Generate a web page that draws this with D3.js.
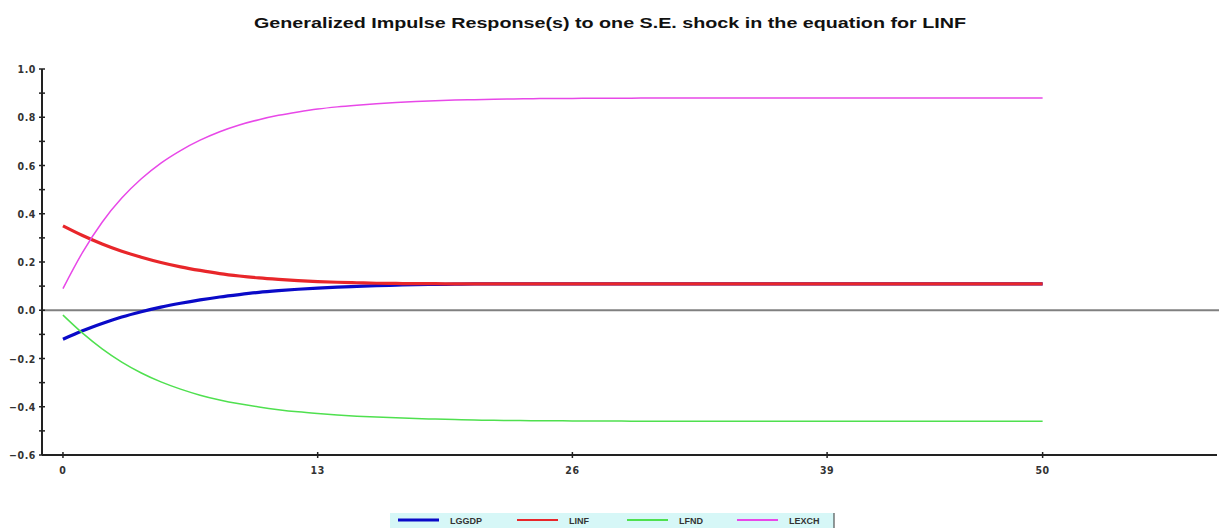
<!DOCTYPE html>
<html>
<head>
<meta charset="utf-8">
<script src="https://cdn.jsdelivr.net/npm/d3@7"></script>
<style>
  body { margin: 0; background: #fff; }
  svg { display: block; font-family: "Liberation Sans", Arial, sans-serif; }
</style>
</head>
<body>
<div id="chart"></div>
<script>
// horizons 0..50
const horizons = d3.range(0, 51);

const LGGDP = [-0.120, -0.085, -0.055, -0.028, -0.006, 0.013, 0.029, 0.043, 0.055, 0.065,
  0.074, 0.081, 0.087, 0.092, 0.096, 0.099, 0.102, 0.104, 0.106, 0.107,
  0.108, 0.109, 0.109, 0.109, 0.109, 0.109, 0.109, 0.109, 0.109, 0.109,
  0.109, 0.109, 0.109, 0.109, 0.109, 0.109, 0.109, 0.109, 0.109, 0.109,
  0.109, 0.109, 0.109, 0.109, 0.109, 0.109, 0.109, 0.109, 0.109, 0.109, 0.109];

const LINF = [0.350, 0.310, 0.275, 0.245, 0.220, 0.198, 0.180, 0.165, 0.152, 0.142,
  0.134, 0.128, 0.123, 0.119, 0.116, 0.114, 0.112, 0.111, 0.110, 0.110,
  0.109, 0.109, 0.109, 0.109, 0.109, 0.109, 0.109, 0.109, 0.109, 0.109,
  0.109, 0.109, 0.109, 0.109, 0.109, 0.109, 0.109, 0.109, 0.109, 0.109,
  0.109, 0.109, 0.109, 0.109, 0.109, 0.109, 0.109, 0.109, 0.109, 0.109, 0.109];

const LFND = [-0.020, -0.095, -0.160, -0.215, -0.260, -0.297, -0.327, -0.352, -0.372, -0.388,
  -0.401, -0.412, -0.421, -0.428, -0.434, -0.439, -0.443, -0.446, -0.449, -0.451,
  -0.453, -0.455, -0.456, -0.457, -0.458, -0.458, -0.459, -0.459, -0.459, -0.460,
  -0.460, -0.460, -0.460, -0.460, -0.460, -0.460, -0.460, -0.460, -0.460, -0.460,
  -0.460, -0.460, -0.460, -0.460, -0.460, -0.460, -0.460, -0.460, -0.460, -0.460, -0.460];

const LEXCH = [0.090, 0.240, 0.365, 0.465, 0.545, 0.610, 0.662, 0.705, 0.740, 0.768,
  0.790, 0.808, 0.822, 0.834, 0.843, 0.850, 0.856, 0.861, 0.865, 0.868,
  0.871, 0.873, 0.875, 0.876, 0.877, 0.878, 0.878, 0.879, 0.879, 0.879,
  0.880, 0.880, 0.880, 0.880, 0.880, 0.880, 0.880, 0.880, 0.880, 0.880,
  0.880, 0.880, 0.880, 0.880, 0.880, 0.880, 0.880, 0.880, 0.880, 0.880, 0.880];

const xTicks = [0, 13, 26, 39, 50];
const yTicks = [1.0, 0.8, 0.6, 0.4, 0.2, 0.0, -0.2, -0.4, -0.6];

const seriesNames = ["LGGDP", "LINF", "LFND", "LEXCH"];
const seriesColors = ["#0a0ac8", "#e8262a", "#4fe04f", "#e848e8"];
const seriesWidths = [3.2, 3.2, 1.5, 1.5];

const W = 1219, H = 529;

const svg = d3.select("#chart").append("svg")
  .attr("width", W).attr("height", H);

const x = d3.scaleLinear().domain([-1.07, 58.9]).range([42, 1217]);
const y = d3.scaleLinear().domain([-0.6, 1.0]).range([455, 69]);

// title
svg.append("text")
  .attr("x", 610).attr("y", 28)
  .attr("text-anchor", "middle")
  .attr("font-size", "15px")
  .attr("font-weight", "bold")
  .attr("fill", "#111")
  .attr("textLength", 712)
  .attr("lengthAdjust", "spacingAndGlyphs")
  .text("Generalized Impulse Response(s) to one S.E. shock in the equation for LINF");

// zero line
svg.append("line")
  .attr("x1", 42).attr("x2", W)
  .attr("y1", y(0)).attr("y2", y(0))
  .attr("stroke", "#808080").attr("stroke-width", 2);

// y axis
const yAxis = svg.append("g").attr("transform", "translate(42,0)");
yAxis.append("line")
  .attr("y1", y(1.0)).attr("y2", y(-0.6))
  .attr("stroke", "#222").attr("stroke-width", 2);
yAxis.selectAll(".minor")
  .data(d3.range(-0.5, 1.0, 0.2))
  .enter().append("line")
  .attr("x1", -3).attr("x2", 3)
  .attr("y1", d => y(d)).attr("y2", d => y(d))
  .attr("stroke", "#222").attr("stroke-width", 1.5);
yAxis.selectAll(".major")
  .data(yTicks)
  .enter().append("line")
  .attr("x1", -3).attr("x2", 3)
  .attr("y1", d => y(d)).attr("y2", d => y(d))
  .attr("stroke", "#222").attr("stroke-width", 1.5);
yAxis.selectAll("text")
  .data(yTicks)
  .enter().append("text")
  .attr("x", -6).attr("y", d => y(d) + 4)
  .attr("text-anchor", "end")
  .attr("font-family", "DejaVu Sans Condensed, DejaVu Sans, sans-serif")
  .attr("font-size", "10.5px")
  .attr("font-weight", "bold")
  .attr("letter-spacing", "0.6px")
  .attr("fill", "#333")
  .text(d => d3.format(".1f")(d));

// x axis
const xAxis = svg.append("g").attr("transform", "translate(0," + y(-0.6) + ")");
xAxis.append("line")
  .attr("x1", 42).attr("x2", 1217)
  .attr("stroke", "#222").attr("stroke-width", 2);
xAxis.selectAll(".tick")
  .data(xTicks)
  .enter().append("line")
  .attr("x1", d => x(d)).attr("x2", d => x(d))
  .attr("y1", -3).attr("y2", 3)
  .attr("stroke", "#222").attr("stroke-width", 1.5);
xAxis.selectAll("text")
  .data(xTicks)
  .enter().append("text")
  .attr("x", d => x(d)).attr("y", 19)
  .attr("text-anchor", "middle")
  .attr("font-family", "DejaVu Sans Condensed, DejaVu Sans, sans-serif")
  .attr("font-size", "10.5px")
  .attr("font-weight", "bold")
  .attr("letter-spacing", "0.6px")
  .attr("fill", "#333")
  .text(d => d);

// lines
const allSeries = [LGGDP, LINF, LFND, LEXCH];
const line = d3.line()
  .x((d, i) => x(horizons[i]))
  .y(d => y(d))
  .curve(d3.curveMonotoneX);

svg.selectAll(".series")
  .data(allSeries)
  .enter().append("path")
  .attr("fill", "none")
  .attr("stroke", (d, i) => seriesColors[i])
  .attr("stroke-width", (d, i) => seriesWidths[i])
  .attr("d", line);

// legend
const legend = svg.append("g").attr("transform", "translate(390,513)");
legend.append("rect")
  .attr("width", 444).attr("height", 15)
  .attr("fill", "#d6f7f7");
legend.append("line")
  .attr("x1", 444).attr("x2", 444).attr("y1", 0).attr("y2", 15)
  .attr("stroke", "#333").attr("stroke-width", 1);
const legendX = [8, 127, 237, 347];
seriesNames.forEach((name, i) => {
  legend.append("line")
    .attr("x1", legendX[i]).attr("x2", legendX[i] + 41)
    .attr("y1", 7).attr("y2", 7)
    .attr("stroke", seriesColors[i])
    .attr("stroke-width", i === 0 ? 3 : 2);
  legend.append("text")
    .attr("x", legendX[i] + 52).attr("y", 10.5)
    .attr("font-size", "9px")
    .attr("font-weight", "bold")
    .attr("fill", "#333")
    .text(name);
});
</script>
</body>
</html>
